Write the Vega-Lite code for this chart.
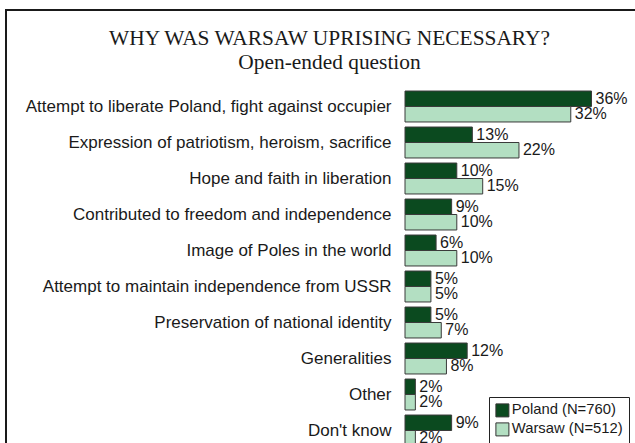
{
  "$schema": "https://vega.github.io/schema/vega-lite/v6.json",
  "width": 639,
  "height": 453,
  "autosize": {"type": "none"},
  "padding": {"left": 6, "top": 10, "right": -10, "bottom": -20},
  "background": "white",
  "title": {
    "text": "WHY WAS WARSAW UPRISING NECESSARY?",
    "subtitle": "Open-ended question",
    "font": "Liberation Serif",
    "fontSize": 21.4,
    "fontWeight": "normal",
    "subtitleFont": "Liberation Serif",
    "subtitleFontSize": 21.4,
    "color": "#1a1a1a",
    "subtitleColor": "#1a1a1a",
    "anchor": "middle",
    "offset": -63,
    "dx": 4,
    "subtitlePadding": 2
  },
  "data": {
    "values": [
      {"reason": "Attempt to liberate Poland, fight against occupier", "sample": "Poland (N=760)", "share": 0.36},
      {"reason": "Attempt to liberate Poland, fight against occupier", "sample": "Warsaw (N=512)", "share": 0.32},
      {"reason": "Expression of patriotism, heroism, sacrifice", "sample": "Poland (N=760)", "share": 0.13},
      {"reason": "Expression of patriotism, heroism, sacrifice", "sample": "Warsaw (N=512)", "share": 0.22},
      {"reason": "Hope and faith in liberation", "sample": "Poland (N=760)", "share": 0.10},
      {"reason": "Hope and faith in liberation", "sample": "Warsaw (N=512)", "share": 0.15},
      {"reason": "Contributed to freedom and independence", "sample": "Poland (N=760)", "share": 0.09},
      {"reason": "Contributed to freedom and independence", "sample": "Warsaw (N=512)", "share": 0.10},
      {"reason": "Image of Poles in the world", "sample": "Poland (N=760)", "share": 0.06},
      {"reason": "Image of Poles in the world", "sample": "Warsaw (N=512)", "share": 0.10},
      {"reason": "Attempt to maintain independence from USSR", "sample": "Poland (N=760)", "share": 0.05},
      {"reason": "Attempt to maintain independence from USSR", "sample": "Warsaw (N=512)", "share": 0.05},
      {"reason": "Preservation of national identity", "sample": "Poland (N=760)", "share": 0.05},
      {"reason": "Preservation of national identity", "sample": "Warsaw (N=512)", "share": 0.07},
      {"reason": "Generalities", "sample": "Poland (N=760)", "share": 0.12},
      {"reason": "Generalities", "sample": "Warsaw (N=512)", "share": 0.08},
      {"reason": "Other", "sample": "Poland (N=760)", "share": 0.02},
      {"reason": "Other", "sample": "Warsaw (N=512)", "share": 0.02},
      {"reason": "Don't know", "sample": "Poland (N=760)", "share": 0.09},
      {"reason": "Don't know", "sample": "Warsaw (N=512)", "share": 0.02}
    ]
  },
  "encoding": {
    "y": {
      "field": "reason",
      "type": "nominal",
      "sort": null,
      "scale": {"type": "band", "paddingInner": 0.14, "paddingOuter": 0.07, "range": [78.5, 438.5], "round": false},
      "axis": {
        "title": null,
        "orient": "left",
        "offset": -399,
        "domain": false,
        "ticks": false,
        "grid": false,
        "labelPadding": 14,
        "labelLimit": 500,
        "labelFont": "Liberation Sans",
        "labelFontSize": 17,
        "labelColor": "#1a1a1a"
      }
    },
    "yOffset": {
      "field": "sample",
      "type": "nominal",
      "sort": ["Poland (N=760)", "Warsaw (N=512)"],
      "scale": {"paddingInner": 0, "paddingOuter": 0}
    },
    "x": {
      "field": "share",
      "type": "quantitative",
      "stack": null,
      "scale": {"domain": [-0.7703, 0.4633], "nice": false, "zero": false},
      "axis": null
    }
  },
  "layer": [
    {
      "mark": {"type": "bar", "stroke": "#3a3a3a", "strokeWidth": 1, "cornerRadius": 0},
      "encoding": {
        "color": {
          "field": "sample",
          "type": "nominal",
          "sort": ["Poland (N=760)", "Warsaw (N=512)"],
          "scale": {"domain": ["Poland (N=760)", "Warsaw (N=512)"], "range": ["#0b4a1f", "#b3dfc2"]},
          "legend": {
            "title": null,
            "orient": "none",
            "legendX": 483,
            "legendY": 387,
            "strokeColor": "#222222",
            "fillColor": "white",
            "padding": 6,
            "symbolType": "square",
            "symbolSize": 169,
            "symbolStrokeColor": "#333333",
            "symbolStrokeWidth": 1,
            "symbolOpacity": 1,
            "labelFont": "Liberation Sans",
            "labelFontSize": 14.8,
            "labelColor": "#1a1a1a",
            "labelOffset": 2,
            "rowPadding": 1
          }
        }
      }
    },
    {
      "mark": {"type": "text", "align": "left", "baseline": "middle", "dx": 4, "font": "Liberation Sans", "fontSize": 16, "color": "#1a1a1a"},
      "encoding": {
        "text": {"field": "share", "type": "quantitative", "format": ".0%"}
      }
    }
  ],
  "config": {
    "view": {"stroke": "#1a1a1a", "strokeWidth": 2}
  }
}
